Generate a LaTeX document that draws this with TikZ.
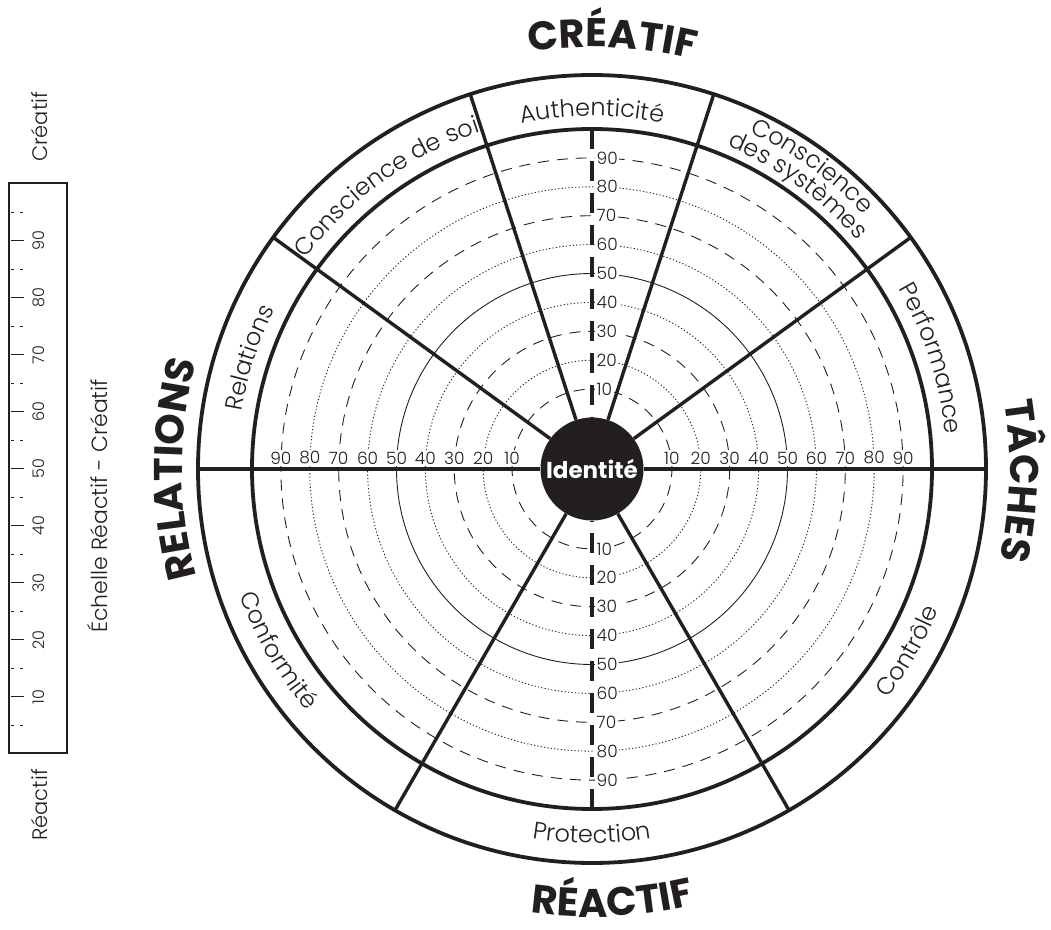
\documentclass[tikz,border=0pt]{standalone}
\usepackage{fontspec}
\IfFontExistsTF{Poppins Light}{%
    \setmainfont{Poppins}[UprightFont=* Light, BoldFont=* Bold]%
}{%
    \setmainfont{Poppins}%
}
\usepackage{xcolor}
\definecolor{ink}{RGB}{35, 31, 32}
\usepackage{tikz}
\usetikzlibrary{
    decorations.text,
    positioning
}
\newcommand{\wheelhead}{\fontsize{40}{40}\selectfont\bfseries}
\newcommand{\wheelsector}{\fontsize{24}{24}\selectfont}
\newcommand{\wheelnum}{\fontsize{17}{17}\selectfont}
\newcommand{\scalenum}{\fontsize{16}{16}\selectfont}

\begin{document}
\begin{tikzpicture}[
    x=1pt, y=1pt,
    color=ink,
    ringsolid/.style={line width=0.9pt},
    ringdash/.style={line width=0.9pt, dash pattern=on 11pt off 8pt},
    ringdot/.style={line width=0.9pt, dash pattern=on 1.2pt off 2.2pt},
    boldline/.style={line width=3.8pt},
    spoke/.style={line width=3.4pt},
    axisdash/.style={line width=4pt, dash pattern=on 20pt off 12pt},
    numlabel/.style={font=\wheelnum, fill=white, inner sep=1.5pt, text=ink},
    sectorlabel/.style={decorate, decoration={text along path, text align=center, text color=ink, text={|\wheelsector|#1}}},
    headlabel/.style={decorate, decoration={text along path, text align=center, text color=ink, text={|\wheelhead|#1}}}
]

\path[use as bounding box, fill=white] (-592,-460) rectangle (459,469);

% ==================== SCALE RINGS ====================
\foreach \v/\kind in {10/ringdash, 20/ringdot, 30/ringdash, 40/ringdot, 50/ringsolid, 60/ringdot, 70/ringdash, 80/ringdot, 90/ringdash} {
    \pgfmathsetmacro{\r}{51+2.89*\v}
    \draw[\kind] (0,0) circle[radius=\r pt];
}

% ring values along the axes
\foreach \v in {10,20,...,90} {
    \pgfmathsetmacro{\r}{51+2.89*\v}
    \node[numlabel, anchor=south] at (\r,3) {\v};
    \node[numlabel, anchor=south] at (-\r,3) {\v};
    \node[numlabel, anchor=west] at (3,\r) {\v};
    \node[numlabel, anchor=west] at (3,-\r) {\v};
}

% ==================== IDENTITY CORE ====================
\node[circle, fill=ink, minimum size=103pt, inner sep=0pt, text=white, font=\fontsize{23}{23}\selectfont\bfseries] (identite) at (0,0) {Identité};

% axes
\draw[axisdash] (90:340pt) -- (identite.north);
\draw[axisdash] (-90:340pt) -- (identite.south);
\draw[boldline] (180:394pt) -- (identite.west);
\draw[boldline] (identite.east) -- (0:394pt);

% ==================== OUTER BAND ====================
\draw[boldline] (0,0) circle[radius=340pt];
\draw[boldline] (0,0) circle[radius=394pt];

\foreach \a in {36,72,108,144,-60,-120} {
    \draw[spoke] (identite.\a) -- (\a:394pt);
}

% sector names (upper half clockwise, lower half counter-clockwise)
\path[sectorlabel={Authenticité}] (140:353pt) arc[start angle=140, end angle=40, radius=353pt];
\path[sectorlabel={Conscience de soi}] (176:355pt) arc[start angle=176, end angle=76, radius=355pt];
\path[sectorlabel={Conscience}] (104:372pt) arc[start angle=104, end angle=4, radius=372pt];
\path[sectorlabel={des systèmes}] (104:350pt) arc[start angle=104, end angle=4, radius=350pt];
\path[sectorlabel={Performance}] (68:355pt) arc[start angle=68, end angle=-32, radius=355pt];
\path[sectorlabel={Relations}] (212:355pt) arc[start angle=212, end angle=112, radius=355pt];
\path[sectorlabel={Protection}] (-140:374pt) arc[start angle=-140, end angle=-40, radius=374pt];
\path[sectorlabel={Contrôle}] (-80:374pt) arc[start angle=-80, end angle=20, radius=374pt];
\path[sectorlabel={Conformité}] (-200:374pt) arc[start angle=-200, end angle=-100, radius=374pt];

% ==================== QUADRANT HEADINGS ====================
\path[headlabel={CRÉATIF}] (137.3:422pt) arc[start angle=137.3, end angle=37.3, radius=422pt];
\path[headlabel={TÂCHES}] (48.4:418pt) arc[start angle=48.4, end angle=-51.6, radius=418pt];
\path[headlabel={RELATIONS}] (230:410pt) arc[start angle=230, end angle=130, radius=410pt];
\path[headlabel={RÉACTIF}] (-137.3:448pt) arc[start angle=-137.3, end angle=-37.3, radius=448pt];

% ==================== SIDE SCALE ====================
\node[draw, line width=1.8pt, minimum width=58pt, minimum height=570pt, inner sep=0pt] (scalebar) at (-554,1) {};

\foreach \v in {10,20,...,90} {
    \draw[line width=1pt] (scalebar.south west) ++(3,5.7*\v) -- ++(13,0);
    \path (scalebar.south west) ++(31,5.7*\v) node[rotate=90, font=\scalenum] {\v};
}
\foreach \v in {5,15,...,95} {
    \draw[line width=1pt, dash pattern=on 3pt off 6pt] (scalebar.south west) ++(3,5.7*\v) -- ++(12,0);
}

\node[rotate=90, anchor=west, inner sep=0pt, font=\fontsize{21}{21}\selectfont] (creatif) at ([xshift=2pt, yshift=20pt]scalebar.north) {Créatif};
\node[rotate=90, anchor=east, inner sep=0pt, font=\fontsize{21}{21}\selectfont] (reactif) at ([xshift=2pt, yshift=-15pt]scalebar.south) {Réactif};
\node[rotate=90, font=\fontsize{22}{22}\selectfont] (echelle) at ([xshift=60pt, yshift=-38pt]scalebar.center) {Échelle Réactif - Créatif};

\end{tikzpicture}
\end{document}
